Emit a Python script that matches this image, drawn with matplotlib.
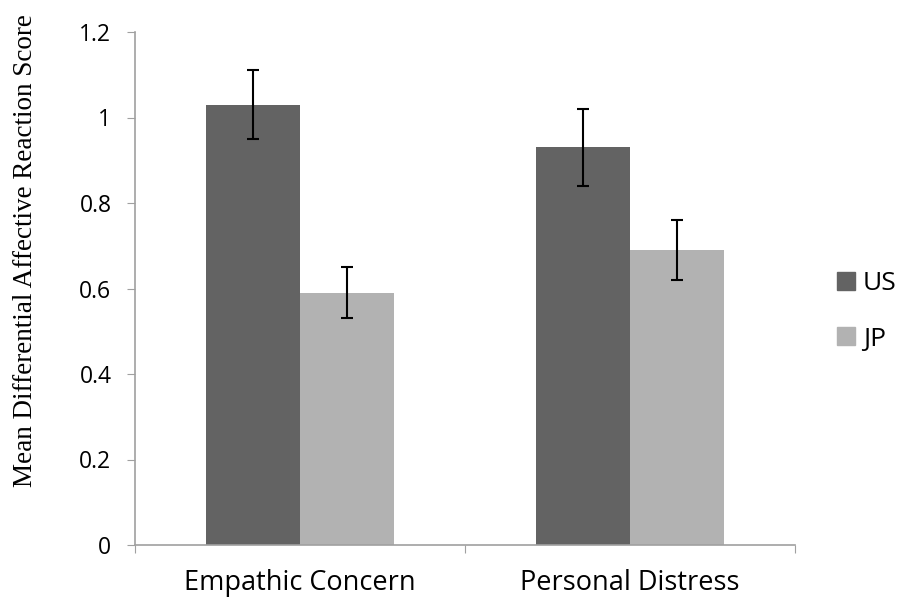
import matplotlib
matplotlib.use("Agg")
import matplotlib.pyplot as plt
import numpy as np
from matplotlib.patches import Patch

categories = ["Empathic Concern", "Personal Distress"]
series = ["US", "JP"]
us_vals = [1.03, 0.93]
jp_vals = [0.59, 0.69]
us_err = [0.08, 0.09]
jp_err = [0.06, 0.07]
yticks = [0, 0.2, 0.4, 0.6, 0.8, 1, 1.2]
ytick_labels = ["0", "0.2", "0.4", "0.6", "0.8", "1", "1.2"]

colors = ["#636363", "#b2b2b2"]
tick_font = ["Open Sans", "DejaVu Sans"]

fig = plt.figure(figsize=(9.04, 6.05), dpi=100)
ax = fig.add_axes([135/904, 1-545/605, (795-135)/904, (545-32)/605])

x = np.arange(len(categories))
w = 0.285
ax.bar(x - w/2, us_vals, width=w, color=colors[0], zorder=2)
ax.bar(x + w/2, jp_vals, width=w, color=colors[1], zorder=2)
ax.errorbar(x - w/2, us_vals, yerr=us_err, fmt="none", ecolor="black",
            elinewidth=1.5, capsize=4.5, capthick=1.5, zorder=3)
ax.errorbar(x + w/2, jp_vals, yerr=jp_err, fmt="none", ecolor="black",
            elinewidth=1.5, capsize=4.5, capthick=1.5, zorder=3)

ax.set_xlim(-0.5, 1.5)
ax.set_ylim(0, 1.2)
ax.set_yticks(yticks)
ax.set_yticklabels(ytick_labels, fontsize=16.5, family=tick_font)
ax.set_xticks([-0.5, 0.5, 1.5])
ax.set_xticklabels([])
ax.set_xticks(x, minor=True)
ax.set_xticklabels(categories, minor=True, fontsize=19.5, family=tick_font)
ax.tick_params(axis="x", which="minor", length=0, pad=17)
ax.tick_params(axis="x", which="major", length=6, color="#a0a0a0", direction="out")
ax.tick_params(axis="y", length=6, color="#a0a0a0", direction="out", pad=11)

for s in ["top", "right"]:
    ax.spines[s].set_visible(False)
for s in ["left", "bottom"]:
    ax.spines[s].set_color("#a0a0a0")
    ax.spines[s].set_linewidth(1.2)

ax.set_ylabel("Mean Differential Affective Reaction Score", fontsize=19.5,
              family=["Liberation Serif", "DejaVu Serif"])
ax.yaxis.set_label_coords((38-135)/660, (545-251)/513)

handles = [Patch(color=colors[0], label=series[0]), Patch(color=colors[1], label=series[1])]
fig.legend(handles=handles, loc="center left", bbox_to_anchor=(837/904, 1-311.5/605),
           frameon=False, prop={"family": tick_font, "size": 19},
           handlelength=0.68, handleheight=0.68, labelspacing=1.14, handletextpad=0.3,
           borderpad=0, borderaxespad=0)

fig.savefig("out.png", dpi=100)
